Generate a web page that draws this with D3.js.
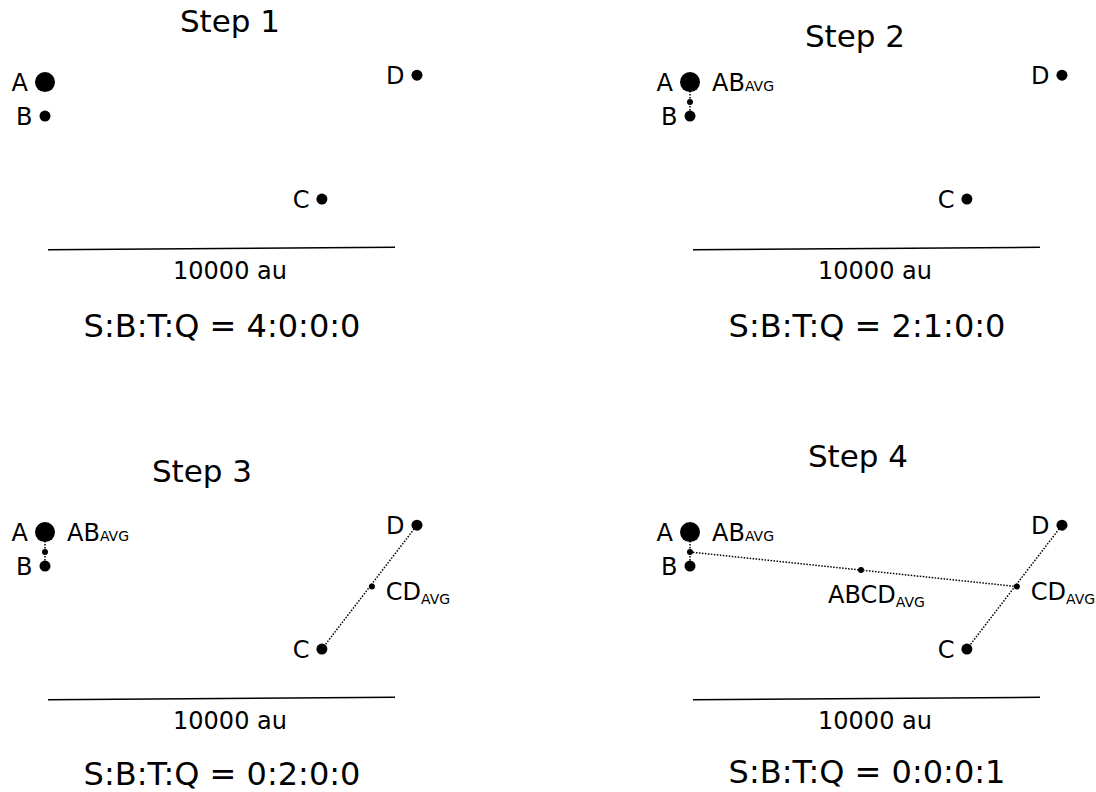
<!DOCTYPE html>
<html>
<head>
<meta charset="utf-8">
<script src="https://cdn.jsdelivr.net/npm/d3@7/dist/d3.min.js"></script>
<style>
  html, body { margin: 0; padding: 0; background: #fff; }
  svg { display: block; }
  text { font-family: "DejaVu Sans", sans-serif; fill: #000; }
</style>
</head>
<body>
<svg id="chart" width="1096" height="792"></svg>
<script>
// ---------------- data (positions in au) ----------------
const stepTitles = ["Step 1", "Step 2", "Step 3", "Step 4"];
const ratioLabels = ["S:B:T:Q = 4:0:0:0", "S:B:T:Q = 2:1:0:0", "S:B:T:Q = 0:2:0:0", "S:B:T:Q = 0:0:0:1"];
const starNames = ["A", "B", "C", "D"];
const starX = [0, 0, 7980, 10720];
const starY = [4810, 3830, 1440, 5010];
const starMass = [3.3, 1, 1, 1];
const avgNames = ["AB", "CD", "ABCD"];
const avgX = [0, 9420, 4928];
const avgY = [4236, 3240, 3720];
const avgFirstStep = [2, 3, 4];           // step in which each average appears
const avgLinks = [["A", "B"], ["C", "D"], ["AB", "CD"]];
const scaleBarX = [86, 10086];
const scaleBarY = [-20, 50];
const scaleBarLabel = "10000 au";
const avgSub = "AVG";

// ---------------- layout ----------------
const svg = d3.select("#chart");
const panelOrigin = [[45, 249], [690, 249], [45, 699], [690, 699]];
const titlePos = [[230, 32], [855, 47], [202, 482], [858, 467]];
const ratioY = [88, 88, 86, 84];

const x = d3.scaleLinear().domain([0, 10000]).range([0, 347]);
const y = d3.scaleLinear().domain([0, 10000]).range([0, -347]);
const r = d3.scaleSqrt().domain([0, 1]).range([0, 5.5]);

const pos = {};
starNames.forEach((n, i) => pos[n] = {x: starX[i], y: starY[i], r: r(starMass[i])});
avgNames.forEach((n, i) => pos[n] = {x: avgX[i], y: avgY[i], r: 3});

stepTitles.forEach((title, si) => {
  const step = si + 1;
  const [ox, oy] = panelOrigin[si];
  const g = svg.append("g").attr("transform", `translate(${ox},${oy})`);

  svg.append("text")
    .attr("x", titlePos[si][0]).attr("y", titlePos[si][1])
    .attr("text-anchor", "middle").attr("font-size", 31)
    .text(title);

  // dotted links
  const links = avgLinks.filter((l, i) => avgFirstStep[i] <= step);
  g.selectAll("line.link").data(links).join("line")
    .attr("class", "link")
    .attr("x1", d => x(pos[d[0]].x)).attr("y1", d => y(pos[d[0]].y))
    .attr("x2", d => x(pos[d[1]].x)).attr("y2", d => y(pos[d[1]].y))
    .attr("stroke", "#000").attr("stroke-width", 1.5)
    .attr("stroke-dasharray", "1.5,1.5");

  // stars
  g.selectAll("circle.star").data(starNames).join("circle")
    .attr("class", "star")
    .attr("cx", d => x(pos[d].x)).attr("cy", d => y(pos[d].y))
    .attr("r", d => pos[d].r).attr("fill", "#000");

  g.selectAll("text.star").data(starNames).join("text")
    .attr("class", "star")
    .attr("x", d => x(pos[d].x) - pos[d].r - 7)
    .attr("y", d => y(pos[d].y) + 9)
    .attr("text-anchor", "end").attr("font-size", 24)
    .text(d => d);

  // averages
  const avgs = avgNames.filter((n, i) => avgFirstStep[i] <= step);
  g.selectAll("circle.avg").data(avgs).join("circle")
    .attr("class", "avg")
    .attr("cx", d => x(pos[d].x)).attr("cy", d => y(pos[d].y))
    .attr("r", d => pos[d].r).attr("fill", "#000");

  const labelOff = {AB: [22, -11, 0], CD: [14, 13, 4], ABCD: [-33, 33, 4]};
  avgs.forEach(n => {
    const t = g.append("text")
      .attr("x", x(pos[n].x) + labelOff[n][0])
      .attr("y", y(pos[n].y) + labelOff[n][1])
      .attr("font-size", 24);
    t.append("tspan").text(n);
    t.append("tspan").attr("font-size", 14).attr("dy", labelOff[n][2]).text(avgSub);
  });

  // scale bar
  g.append("line")
    .attr("x1", x(scaleBarX[0])).attr("y1", y(scaleBarY[0]))
    .attr("x2", x(scaleBarX[1])).attr("y2", y(scaleBarY[1]))
    .attr("stroke", "#000").attr("stroke-width", 1.5);
  g.append("text")
    .attr("x", 185).attr("y", 30)
    .attr("text-anchor", "middle").attr("font-size", 24)
    .text(scaleBarLabel);

  g.append("text")
    .attr("x", 177).attr("y", ratioY[si])
    .attr("text-anchor", "middle").attr("font-size", 32)
    .text(ratioLabels[si]);
});
</script>
</body>
</html>
